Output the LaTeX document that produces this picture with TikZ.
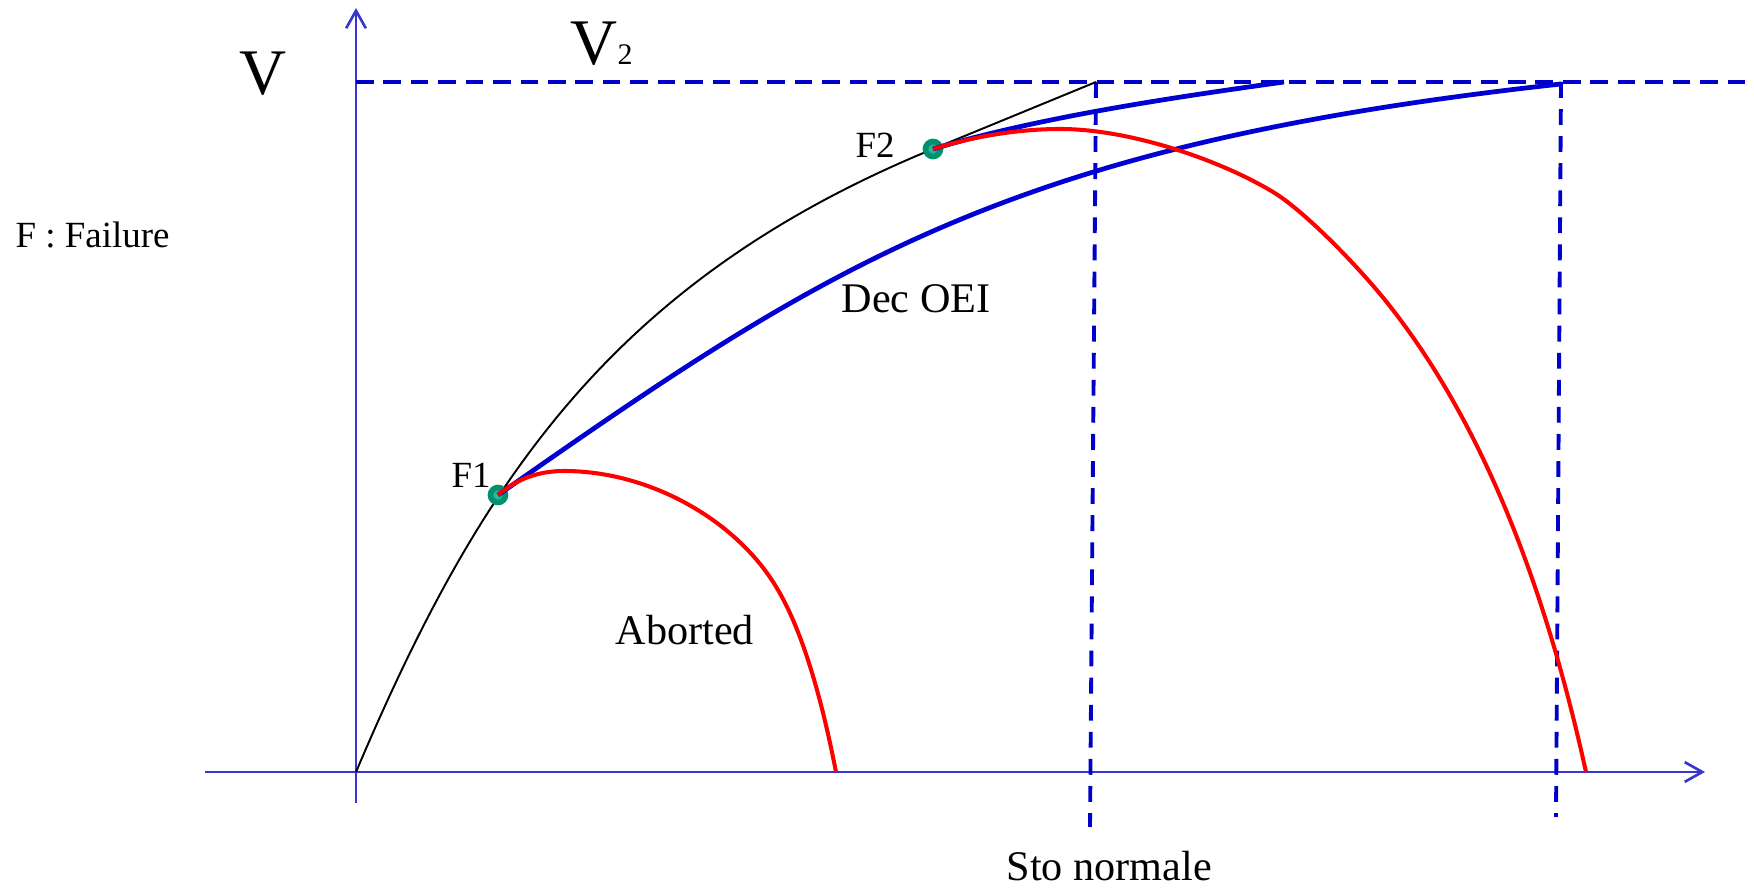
\documentclass[tikz,border=0pt]{standalone}
\usepackage{fontspec}
\setmainfont{Liberation Serif}
\usepackage{xcolor}
\usepackage{tikz}
\usetikzlibrary{arrows.meta}
\definecolor{axisblue}{RGB}{55,55,205}
\definecolor{dashblue}{RGB}{0,0,200}
\definecolor{oeiblue}{RGB}{0,0,210}
\definecolor{failgreen}{RGB}{0,145,110}
\definecolor{failgreenlt}{RGB}{40,185,150}

\begin{document}
\begin{tikzpicture}[x=0.01cm, y=-0.01cm, >={Straight Barb[length=5pt,width=5.6pt]},
    axisline/.style={axisblue, line width=0.75pt},
    limitline/.style={dashblue, line width=1.15pt, dash pattern=on 5pt off 2.8pt},
    stopline/.style={dashblue, line width=1.1pt, dash pattern=on 4.5pt off 3.2pt},
    pathline/.style={black, line width=0.55pt},
    oeiline/.style={oeiblue, line width=1.35pt},
    abortline/.style={red, line width=1.15pt},
    faildot/.style={fill=failgreenlt, draw=failgreen, line width=1.6pt},
    biglbl/.style={inner sep=0pt, font=\fontsize{18.5}{22}\selectfont},
    lbl/.style={inner sep=0pt, font=\fontsize{12}{14}\selectfont},
    smalllbl/.style={inner sep=0pt, font=\fontsize{10.5}{12}\selectfont}]
    \useasboundingbox (0,0) rectangle (1754,889);

    \coordinate (O) at (356,772);
    \coordinate (xl) at (205,772);
    \coordinate (xr) at (1705,772);
    \coordinate (yb) at (356,803);
    \coordinate (yt) at (356,8);
    \coordinate (vl) at (356,82);
    \coordinate (vr) at (1745,82);
    \coordinate (s1t) at (1096,82);
    \coordinate (s1b) at (1090,827);
    \coordinate (s2t) at (1561,82);
    \coordinate (s2b) at (1556,817);
    \coordinate (F1) at (498,495);
    \coordinate (F2) at (933,149);
    \coordinate (e1) at (1561,84);
    \coordinate (e2) at (1284,82);
    \coordinate (p1) at (564,471);
    \coordinate (k1) at (775,585);
    \coordinate (a1) at (836,772);
    \coordinate (p2) at (1060,129);
    \coordinate (k2) at (1273,192);
    \coordinate (k3) at (1385,300);
    \coordinate (a2) at (1586,772);

    \draw[axisline, ->] (xl) -- (xr);
    \draw[axisline, ->] (yb) -- (yt);
    \draw[limitline] (vl) -- (vr);
    \draw[stopline] (s1t) -- (s1b);
    \draw[stopline] (s2t) -- (s2b);

    \draw[pathline] (O) .. controls (477,487) and (609,282) .. (F2) -- (s1t);
    \filldraw[faildot] (F1) circle (0.075cm);
    \filldraw[faildot] (F2) circle (0.075cm);

    \draw[oeiline] (F1) .. controls (826,266) and (1004,145) .. (e1);
    \draw[oeiline] (F2) .. controls (1043,116) and (1184,96) .. (e2);
    \draw[abortline] (F1) .. controls (518,478) and (540,471) .. (p1)
        .. controls (650,471) and (735,520) .. (k1)
        .. controls (800,625) and (820,690) .. (a1);
    \draw[abortline] (F2) .. controls (975,136) and (1020,129) .. (p2)
        .. controls (1130,129) and (1220,160) .. (k2)
        .. controls (1303,210) and (1355,263) .. (k3)
        .. controls (1479,417) and (1543,577) .. (a2);

    \node[biglbl, anchor=base] (vlabel) at (263,95) {V};
    \node[biglbl, anchor=base west] (v2label) at (570,65) {V{\fontsize{8.5}{10}\selectfont 2}};
    \node[smalllbl, anchor=base west] (legend) at (15,248) {F : Failure};
    \node[smalllbl, anchor=base west] (f1label) at (451,488) {F1};
    \node[smalllbl, anchor=base west] (f2label) at (855,158) {F2};
    \node[lbl, anchor=base west] (oeilabel) at (841,313) {Dec OEI};
    \node[lbl, anchor=base west] (abortlabel) at (615,645) {Aborted};
    \node[lbl, anchor=base west] (stolabel) at (1006,881) {Sto normale};
\end{tikzpicture}
\end{document}
